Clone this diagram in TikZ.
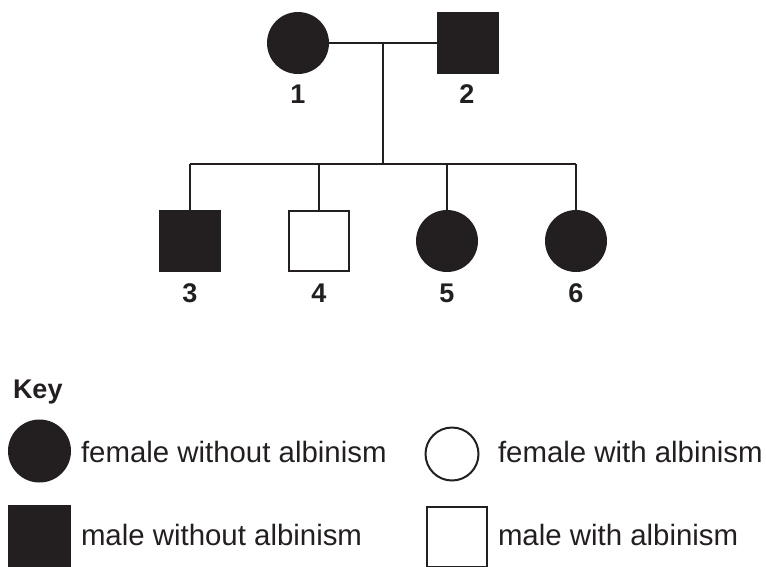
\documentclass[tikz,border=0pt]{standalone}
\usepackage{fontspec}
\setmainfont{Liberation Sans}
\definecolor{ink}{HTML}{231F20}
\begin{document}
\begin{tikzpicture}[x=1pt,y=-1pt,
  line width=2pt,
  fcirc/.style={circle,fill=ink,draw=none,minimum size=62pt,inner sep=0pt,outer sep=0pt},
  ocirc/.style={circle,draw=ink,fill=white,minimum size=53pt,inner sep=0pt,outer sep=0pt},
  fsq/.style={rectangle,fill=ink,draw=none,minimum size=62pt,inner sep=0pt,outer sep=0pt},
  osq/.style={rectangle,draw=ink,fill=white,minimum size=60pt,inner sep=0pt,outer sep=0pt},
  num/.style={font=\fontsize{27}{30}\selectfont\bfseries,text=ink,inner sep=0pt},
  keytxt/.style={font=\fontsize{29.4}{33}\selectfont,text=ink,inner sep=0pt,anchor=base west},
  conn/.style={draw=ink,line width=2pt}]
\useasboundingbox (0,0) rectangle (766,566);
% parents
\node[fcirc] (p1) at (298,43) {};
\node[fsq] (p2) at (467.5,43) {};
\coordinate (m) at (383,43);
\coordinate (s) at (383,164);
\draw[conn] (p1.east) -- (p2.west);
\draw[conn] (m) -- (s);
% children
\node[fsq] (c3) at (190,241) {};
\node[osq] (c4) at (319,241) {};
\node[fcirc] (c5) at (447,241) {};
\node[fcirc] (c6) at (576,241) {};
\coordinate (b3) at (190,164);
\coordinate (b6) at (576,164);
\draw[conn] (b3) -- (b6);
\draw[conn] (b3) -- (c3.north);
\draw[conn] (c4.north |- b3) -- (c4.north);
\draw[conn] (c5.north |- b3) -- (c5.north);
\draw[conn] (b6) -- (c6.north);
% labels
\node[num] (l1) at (298,94) {1};
\node[num] (l2) at (467,94) {2};
\node[num] (l3) at (190,293) {3};
\node[num] (l4) at (319,293) {4};
\node[num] (l5) at (447,293) {5};
\node[num] (l6) at (576,293) {6};
% key
\node[font=\fontsize{27}{30}\selectfont\bfseries,text=ink,inner sep=0pt,anchor=base west] (key) at (12,398) {Key};
\node[fcirc,minimum size=63pt] (k1) at (39.5,451) {};
\node[keytxt] (t1) at (80,462) {female without albinism};
\node[ocirc] (k2) at (452,454) {};
\node[keytxt] (t2) at (497,462) {female with albinism};
\node[fsq,minimum size=63pt] (k3) at (39.5,536.5) {};
\node[keytxt] (t3) at (80,545) {male without albinism};
\node[osq] (k4) at (456.5,537) {};
\node[keytxt] (t4) at (497,545) {male with albinism};
\end{tikzpicture}
\end{document}
